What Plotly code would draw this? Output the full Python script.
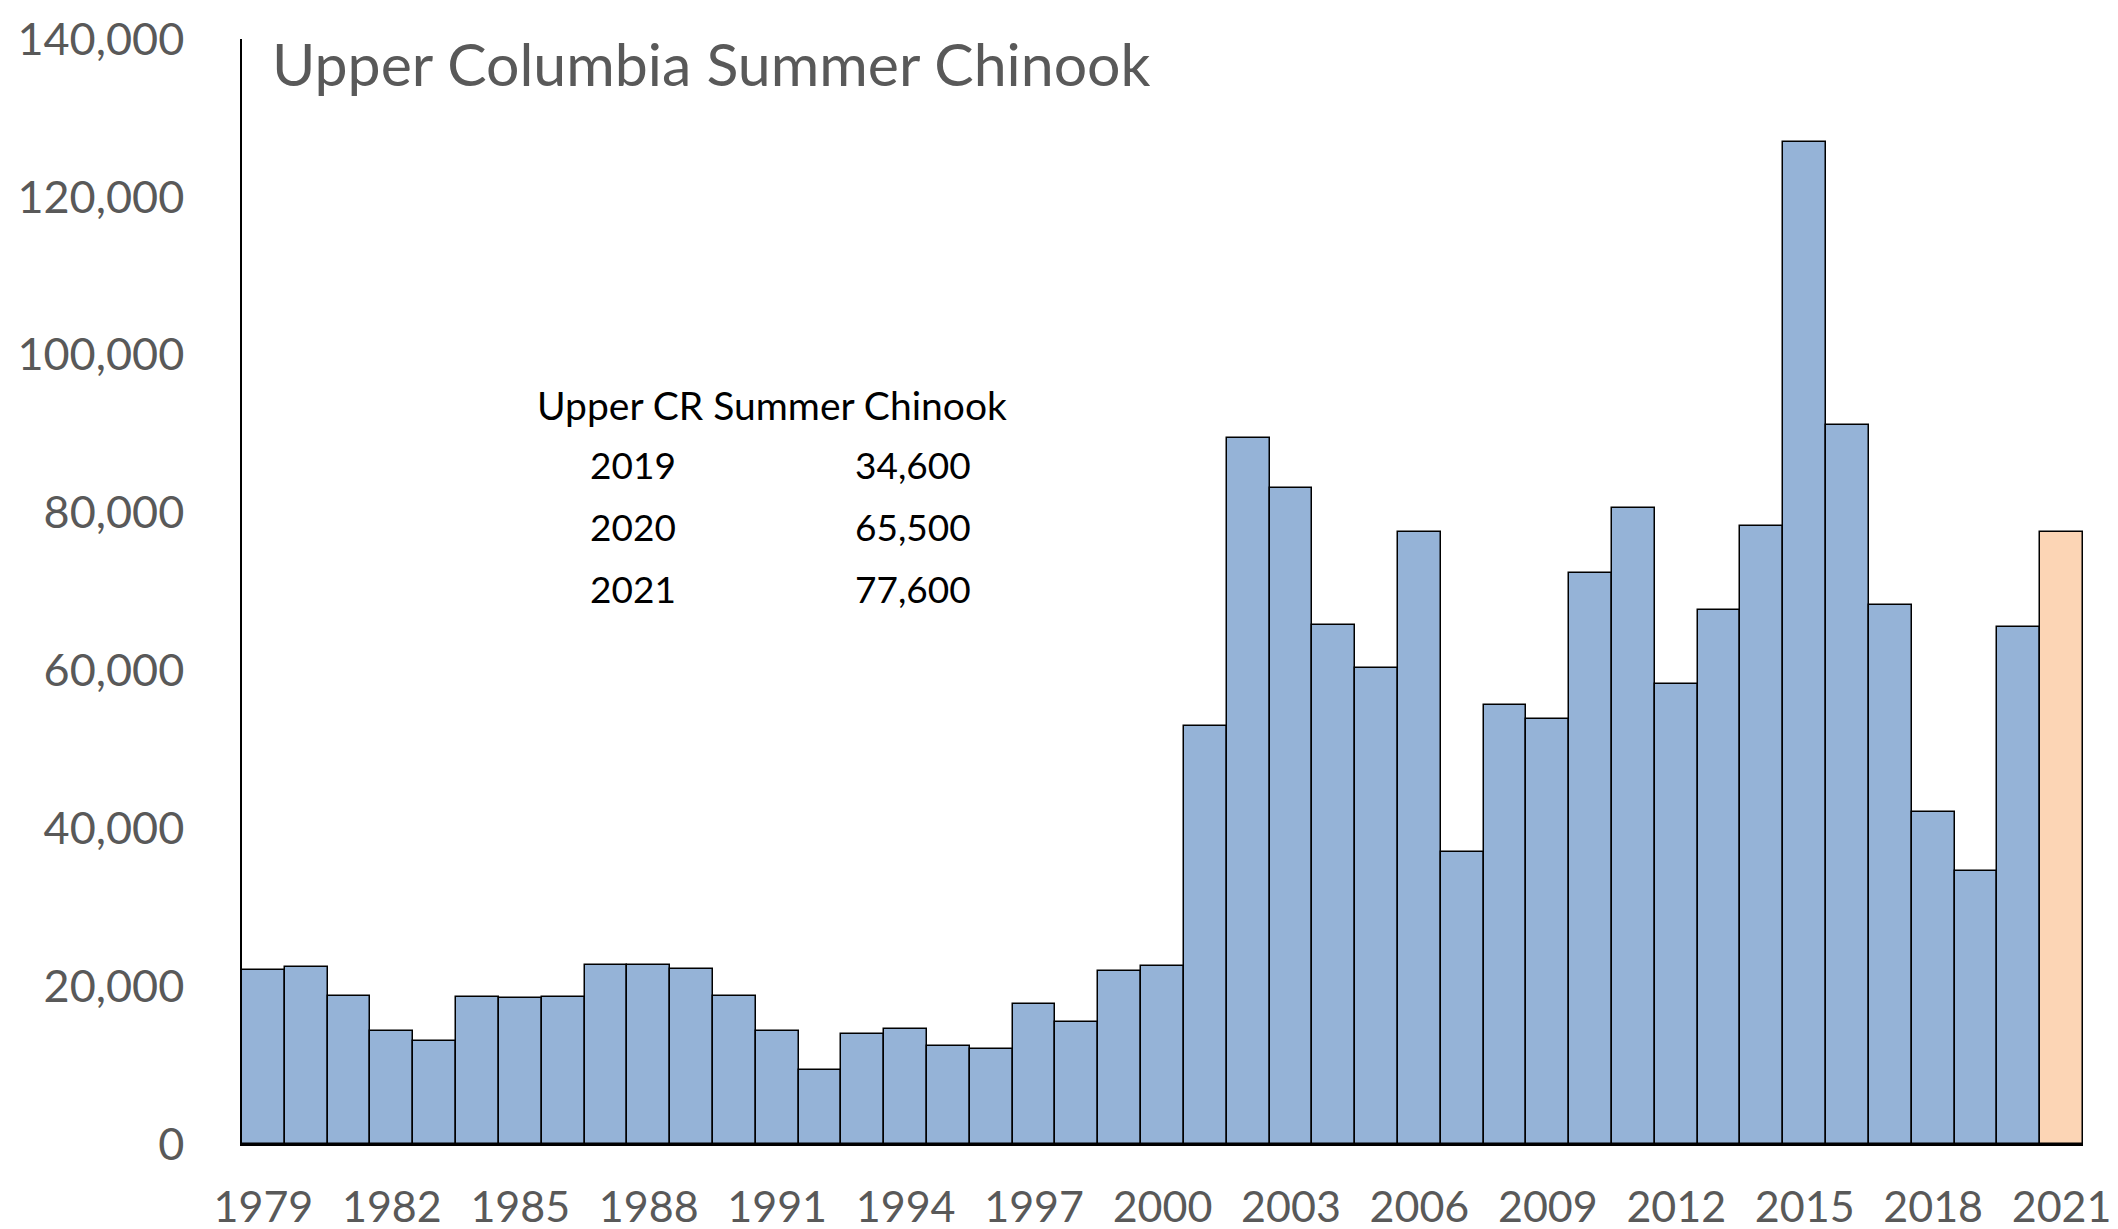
import plotly.graph_objects as go

years = list(range(1979, 2022))
counts = [22100, 22400, 18700, 14300, 13100, 18600, 18500, 18600, 22700, 22700,
          22200, 18700, 14300, 9400, 13900, 14600, 12400, 12000, 17700, 15500,
          21900, 22600, 53000, 89500, 83100, 65700, 60300, 77600, 37000, 55600,
          53900, 72300, 80600, 58300, 67600, 78300, 126900, 91100, 68300, 42100,
          34600, 65500, 77600]
highlight_year = 2021
tick_years = list(range(1979, 2022, 3))
y_ticks = list(range(0, 140001, 20000))

title_text = "Upper Columbia Summer Chinook"
table_header = "Upper CR Summer Chinook"
table_years = ["2019", "2020", "2021"]
table_values = ["34,600", "65,500", "77,600"]

blue = "#95B3D7"
peach = "#FCD5B5"
colors = [peach if y == highlight_year else blue for y in years]

FONT = "Lato"
GRAY = "#595959"

fig = go.Figure()
fig.add_trace(go.Bar(
    x=years, y=counts, width=1,
    marker=dict(color=colors, line=dict(color="black", width=1.5)),
    showlegend=False,
))

fig.update_layout(
    width=2118, height=1229,
    margin=dict(l=234, r=43, t=31, b=93),
    plot_bgcolor="white", paper_bgcolor="white",
    bargap=0,
    font=dict(family=FONT, color=GRAY),
)
fig.update_xaxes(
    range=[1978.5, 2021.5], automargin=False, ticklabeloverflow="allow",
    tickmode="array", tickvals=tick_years, ticktext=[str(t) for t in tick_years],
    tickfont=dict(size=43, color=GRAY, family=FONT),
    ticks="outside", ticklen=24, tickcolor="rgba(0,0,0,0)",
    showline=True, linecolor="black", linewidth=2,
    showgrid=False, zeroline=False,
)
fig.update_yaxes(
    range=[0, 140000], automargin=False, ticklabeloverflow="allow",
    tickmode="array", tickvals=y_ticks, ticktext=[f"{v:,}" for v in y_ticks],
    tickfont=dict(size=45, color=GRAY, family=FONT),
    ticks="outside", ticklen=47, tickcolor="rgba(0,0,0,0)",
    showline=True, linecolor="black", linewidth=1.5,
    showgrid=False, zeroline=False,
)

fig.add_annotation(
    text=title_text, xref="x domain", yref="y domain",
    x=0.015, y=0.978, xanchor="left", yanchor="middle", showarrow=False,
    font=dict(size=59, color=GRAY, family=FONT),
)
fig.add_annotation(
    text=table_header, xref="x domain", yref="y domain",
    x=0.159, y=0.669, xanchor="left", yanchor="middle", showarrow=False,
    font=dict(size=39, color="black", family=FONT),
)
row_y = [0.615, 0.559, 0.503]
for yr, val, ry in zip(table_years, table_values, row_y):
    fig.add_annotation(
        text=yr, xref="x domain", yref="y domain",
        x=0.188, y=ry, xanchor="left", yanchor="middle", showarrow=False,
        font=dict(size=37, color="black", family=FONT),
    )
    fig.add_annotation(
        text=val, xref="x domain", yref="y domain",
        x=0.397, y=ry, xanchor="right", yanchor="middle", showarrow=False,
        font=dict(size=37, color="black", family=FONT),
    )

fig.write_html("out.html")
